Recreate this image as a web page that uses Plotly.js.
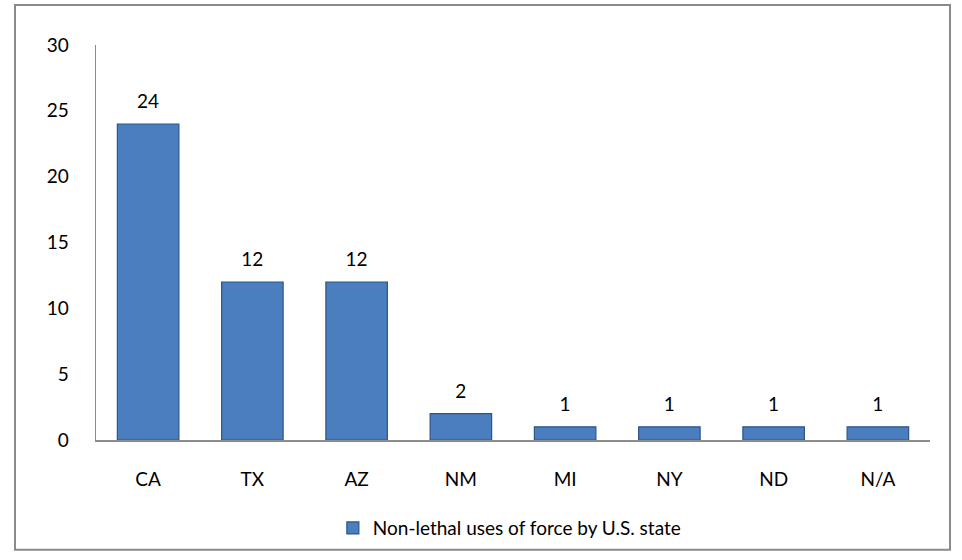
<!DOCTYPE html>
<html><head><meta charset="utf-8">
<script src="https://cdn.plot.ly/plotly-3.0.1.min.js"></script>
<style>html,body{margin:0;padding:0;background:#fff}</style>
</head><body><div id="chart" style="width:962px;height:560px"></div>
<script>
const states = ["CA","TX","AZ","NM","MI","NY","ND","N/A"];
const counts = [24,12,12,2,1,1,1,1];
const seriesName = "Non-lethal uses of force by U.S. state";
const yTicks = [0,5,10,15,20,25,30];

const font = {family: "Lato, 'Open Sans', sans-serif", size: 19, color: "#000"};

const data = [{
  type: "bar",
  x: states,
  y: counts,
  name: seriesName,
  width: 0.59,
  marker: {color: "#4a7ebf", line: {color: "#2b5788", width: 1.2}},
  showlegend: true,
  hoverinfo: "skip"
}, {
  type: "scatter",
  mode: "markers+text",
  x: states,
  y: counts,
  text: counts.map(String),
  textposition: "top center",
  textfont: font,
  marker: {size: 16, opacity: 0},
  cliponaxis: false,
  showlegend: false,
  hoverinfo: "skip"
}];

const layout = {
  width: 962, height: 560,
  margin: {l: 96, r: 32, t: 45, b: 120},
  paper_bgcolor: "#fff", plot_bgcolor: "#fff",
  font: font,
  showlegend: true,
  legend: {orientation: "h", x: 0.284, xanchor: "left", y: -0.175, yanchor: "top", font: font},
  xaxis: {
    range: [-0.5, 7.5],
    showline: true, linecolor: "#8c8c8c", linewidth: 1.5,
    ticks: "", ticklabelstandoff: 22, showgrid: false, zeroline: false,
    tickfont: font
  },
  yaxis: {
    range: [0, 30], tickvals: yTicks, showline: true, linecolor: "#8c8c8c", linewidth: 1.5,
    ticks: "", ticklabelstandoff: 22, showgrid: false, zeroline: false,
    tickfont: font
  },
  shapes: [{
    type: "rect", xref: "paper", yref: "paper",
    x0: -0.0971, x1: 1.024, y0: -0.278, y1: 1.101,
    line: {color: "#8a8a8a", width: 2}, fillcolor: "rgba(0,0,0,0)", layer: "below"
  }]
};

Plotly.newPlot("chart", data, layout, {displayModeBar: false, staticPlot: true});
</script></body></html>
